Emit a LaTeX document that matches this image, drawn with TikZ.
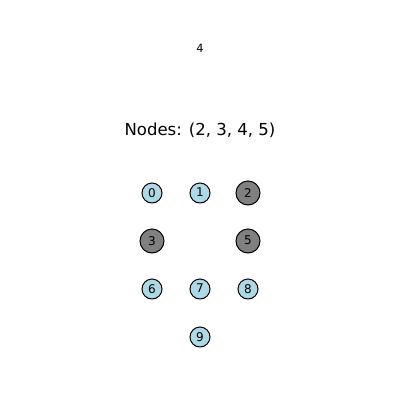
\documentclass[tikz,border=0pt]{standalone}
\usepackage{fontspec}
\setmainfont{DejaVu Sans}
\definecolor{lblue}{HTML}{ADD8E6}
\definecolor{dgray}{HTML}{808080}
\begin{document}
\begin{tikzpicture}[x=0.75pt,y=-0.75pt,
  small/.style={circle,draw=black,line width=0.75pt,fill=lblue,minimum size=15pt,inner sep=0pt,font=\fontsize{9}{10}\selectfont},
  big/.style={circle,draw=black,line width=0.75pt,fill=dgray,minimum size=18pt,inner sep=0pt,font=\fontsize{9}{10}\selectfont}]
\useasboundingbox (0,0) rectangle (400,400);
\node[font=\fontsize{8.5}{10}\selectfont] (four) at (200,48) {4};
\node[font=\fontsize{12.4}{14}\selectfont] (title) at (200,130) {Nodes: (2, 3, 4, 5)};
\node[small] (n0) at (152,193) {\raisebox{0.6pt}{0}};
\node[small] (n1) at (200,193) {\raisebox{0.6pt}{1}};
\node[big] (n2) at (248,193) {\raisebox{0.6pt}{2}};
\node[big] (n3) at (152,241) {\raisebox{0.6pt}{3}};
\node[big] (n5) at (248,241) {\raisebox{0.6pt}{5}};
\node[small] (n6) at (152,289) {\raisebox{0.6pt}{6}};
\node[small] (n7) at (200,289) {\raisebox{0.6pt}{7}};
\node[small] (n8) at (248,289) {\raisebox{0.6pt}{8}};
\node[small] (n9) at (200,337) {\raisebox{0.6pt}{9}};
\end{tikzpicture}
\end{document}
